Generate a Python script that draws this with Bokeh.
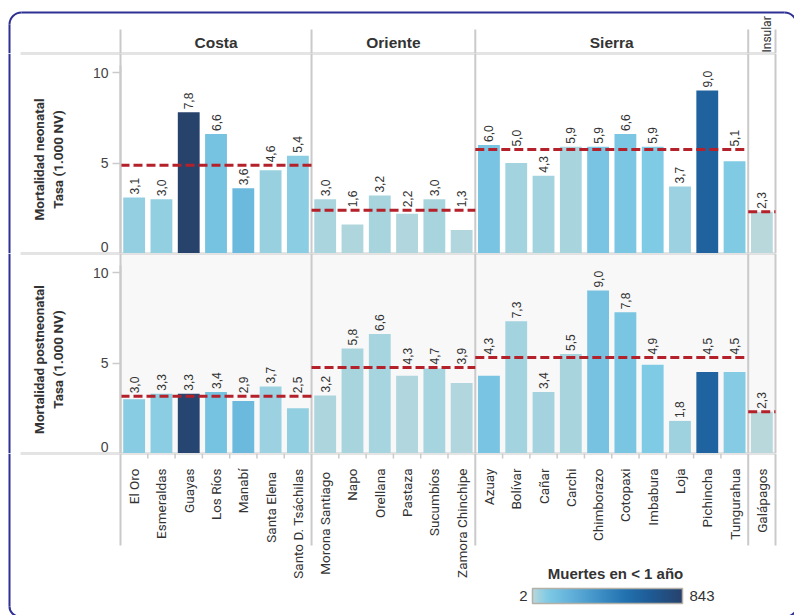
import math
import numpy as np
from bokeh.plotting import figure
from bokeh.models import Range1d, LinearAxis, FixedTicker, LinearColorMapper, ColumnDataSource
from bokeh.layouts import column
from bokeh.embed import file_html
from bokeh.resources import INLINE
from bokeh.core.properties import value

# ---------------- data ----------------
regions = ["Costa", "Oriente", "Sierra", "Insular"]
region_sizes = [7, 6, 10, 1]
provinces = ["El Oro", "Esmeraldas", "Guayas", "Los Ríos", "Manabí", "Santa  Elena",
             "Santo D. Tsáchilas",
             "Morona  Santiago", "Napo", "Orellana", "Pastaza", "Sucumbíos", "Zamora Chinchipe",
             "Azuay", "Bolívar", "Cañar", "Carchi", "Chimborazo", "Cotopaxi", "Imbabura",
             "Loja", "Pichincha", "Tungurahua",
             "Galápagos"]
neo_rate = [3.1, 3.0, 7.8, 6.6, 3.6, 4.6, 5.4,
            3.0, 1.6, 3.2, 2.2, 3.0, 1.3,
            6.0, 5.0, 4.3, 5.9, 5.9, 6.6, 5.9, 3.7, 9.0, 5.1,
            2.3]
post_rate = [3.0, 3.3, 3.3, 3.4, 2.9, 3.7, 2.5,
             3.2, 5.8, 6.6, 4.3, 4.7, 3.9,
             4.3, 7.3, 3.4, 5.5, 9.0, 7.8, 4.9, 1.8, 4.5, 4.5,
             2.3]
# deaths under one year (colour of each bar), estimated from the colour scale
neo_deaths = [55, 60, 843, 130, 170, 50, 70,
              22, 18, 28, 14, 28, 12,
              120, 35, 35, 28, 118, 105, 90, 45, 620, 85,
              2]
post_deaths = [75, 70, 820, 130, 175, 45, 60,
               20, 25, 30, 14, 30, 15,
               120, 35, 32, 28, 125, 110, 90, 40, 610, 80,
               3]
y_ticks = [0, 5, 10]
deaths_low = 2
deaths_high = 843
neo_title = "Mortalidad neonatal\nTasa (1.000 NV)"
post_title = "Mortalidad postneonatal\nTasa (1.000 NV)"
legend_title = "Muertes en < 1 año"

# ---------------- layout / style ----------------
FIG_W = 794
HEAD_H, PANEL_H, LAB_H = 53, 200, 162
PLOT_L = 120                 # x where the first bar slot starts
SLOT = 655 / 24              # px per province slot
Y_MAX = PANEL_H / 18.1

GRID = "#cacaca"
FRAME = "#2e3192"
RED = "#b5212b"
TEXT = "#333333"
SANS = "Liberation Sans"
COND = "Roboto"


def cx(px):
    return -0.5 + (px - PLOT_L) / SLOT


def hex2rgb(h):
    h = h.lstrip("#")
    return [int(h[i:i + 2], 16) for i in (0, 2, 4)]


stops = [(0.0, "#b8d8dc"), (0.10, "#7fcae4"), (0.25, "#63b1db"), (0.45, "#3e8fc6"),
         (0.62, "#2272b0"), (0.78, "#1e5c97"), (1.0, "#27426b")]
palette = []
for t in np.linspace(0, 1, 256):
    for (t0, c0), (t1, c1) in zip(stops[:-1], stops[1:]):
        if t0 <= t <= t1:
            f = (t - t0) / (t1 - t0)
            a, b = hex2rgb(c0), hex2rgb(c1)
            palette.append("#%02x%02x%02x" % tuple(int(round(a[k] + (b[k] - a[k]) * f)) for k in range(3)))
            break
mapper = LinearColorMapper(palette=palette, low=deaths_low, high=deaths_high)

sizes = np.array(region_sizes)
ends = np.cumsum(sizes) - 0.5
starts = ends - sizes
centers = (starts + ends) / 2
bounds = np.concatenate([[starts[0]], ends])
xs = np.arange(len(provinces))
gidx = np.repeat(np.arange(len(regions)), sizes)

x_range = Range1d(cx(0), cx(FIG_W))


def base_fig(h, y0, y1):
    p = figure(width=FIG_W, height=h, x_range=x_range, y_range=Range1d(y0, y1),
               output_backend="svg", toolbar_location=None, tools="",
               x_axis_location=None, y_axis_location=None,
               min_border_left=0, min_border_right=0, min_border_top=0, min_border_bottom=0)
    p.outline_line_color = None
    p.background_fill_color = "white"
    p.border_fill_color = "white"
    p.xgrid.visible = False
    p.ygrid.visible = False
    return p


# ---------------- header (y = 53 - page y) ----------------
hp = base_fig(HEAD_H, 0, HEAD_H)
hp.segment(x0=bounds, x1=bounds, y0=0, y1=24, line_color=GRID, line_width=2)
hp.segment(x0=[cx(20)], x1=[bounds[-1]], y0=[0], y1=[0], line_color=GRID, line_width=2)
wide = sizes > 1
hp.text(x=centers[wide], y=11, text=[r for r, w in zip(regions, wide) if w],
        text_align="center", text_baseline="middle", text_font=value(SANS),
        text_font_size="15.5px", text_font_style="bold", text_color=TEXT)
hp.text(x=centers[~wide], y=1, text=[r for r, w in zip(regions, wide) if not w],
        angle=math.pi / 2, text_align="left", text_baseline="middle", x_offset=5,
        text_font=value(COND), text_font_size="12px", text_color=TEXT)
# rounded frame (top)
hp.segment(x0=[cx(21)], x1=[cx(784)], y0=[41], y1=[41], line_color=FRAME, line_width=2)
hp.segment(x0=[cx(9), cx(796)], x1=[cx(9), cx(796)], y0=[29, 29], y1=[0, 0], line_color=FRAME, line_width=2)
hp.arc(x=[cx(21), cx(784)], y=[29, 29], radius=12, radius_units="screen",
       start_angle=[math.pi / 2, 0], end_angle=[math.pi, math.pi / 2], line_color=FRAME, line_width=2)


# ---------------- panels ----------------
def panel(rates, deaths, title, shaded):
    p = base_fig(PANEL_H, 0, Y_MAX)
    rates = np.array(rates, dtype=float)
    if shaded:
        p.quad(left=[bounds[0]], right=[bounds[-1]], bottom=[0], top=[Y_MAX], fill_color="#f8f8f8", line_color=None)
    p.segment(x0=bounds, x1=bounds, y0=0, y1=Y_MAX, line_color=GRID, line_width=2)
    p.segment(x0=[cx(20), cx(20)], x1=[bounds[-1], bounds[-1]], y0=[0, Y_MAX], y1=[0, Y_MAX],
              line_color=GRID, line_width=2)
    p.segment(x0=[cx(9), cx(796)], x1=[cx(9), cx(796)], y0=[0, 0], y1=[Y_MAX, Y_MAX],
              line_color=FRAME, line_width=2)

    avgs = np.array([rates[gidx == g].mean() for g in range(len(regions))])
    a = avgs[gidx]
    label_y = np.where((a >= rates) & (a - rates < 1.2), a, rates)
    src = ColumnDataSource(dict(x=xs, rate=rates, deaths=deaths, label_y=label_y,
                                label=[f"{v:.1f}".replace(".", ",") for v in rates]))
    p.vbar(x="x", top="rate", bottom=0, width=0.8, source=src,
           fill_color={"field": "deaths", "transform": mapper}, line_color=None)
    p.segment(x0=starts, x1=ends, y0=avgs, y1=avgs, line_color=RED, line_width=3, line_dash="9 4")
    p.text(x="x", y="label_y", text="label", source=src, angle=math.pi / 2,
           text_align="left", text_baseline="middle", y_offset=-3,
           text_font=value(SANS), text_font_size="12px", text_color=TEXT)

    ax = LinearAxis(ticker=FixedTicker(ticks=y_ticks[1:]), fixed_location=bounds[0], axis_label=title)
    ax.bounds = (0, 10.4)
    ax.axis_line_color = GRID
    ax.axis_line_width = 2
    ax.major_tick_line_color = GRID
    ax.major_tick_line_width = 1.5
    ax.major_tick_out = 8
    ax.major_tick_in = 0
    ax.minor_tick_line_color = None
    ax.major_label_standoff = 4
    ax.major_label_text_font = SANS
    ax.major_label_text_font_size = "14px"
    ax.major_label_text_color = "#444444"
    ax.axis_label_standoff = 24
    ax.axis_label_text_font = COND
    ax.axis_label_text_font_size = "13.5px"
    ax.axis_label_text_font_style = "bold"
    ax.axis_label_text_color = TEXT
    p.add_layout(ax, "left")
    # the lowest tick label sits just above the baseline so it stays inside the panel
    p.text(x=[bounds[0]], y=[y_ticks[0]], text=[str(y_ticks[0])], x_offset=-12, y_offset=-2,
           text_align="right", text_baseline="bottom", text_font=value(SANS),
           text_font_size="14px", text_color="#444444")
    return p


neo = panel(neo_rate, neo_deaths, neo_title, False)
post = panel(post_rate, post_deaths, post_title, True)

# ---------------- category labels + legend (y = 615 - page y) ----------------
lp = base_fig(LAB_H, 0, LAB_H)
lp.segment(x0=bounds, x1=bounds, y0=LAB_H, y1=70, line_color=GRID, line_width=2)
inner = np.array([b for b in xs[:-1] + 0.5 if b not in ends])
lp.segment(x0=inner, x1=inner, y0=LAB_H, y1=LAB_H - 5, line_color=GRID, line_width=1.5)
lp.segment(x0=[cx(20)], x1=[bounds[-1]], y0=[LAB_H], y1=[LAB_H], line_color=GRID, line_width=2)
xa = LinearAxis(ticker=FixedTicker(ticks=[int(v) for v in xs]),
                major_label_overrides={int(i): n for i, n in zip(xs, provinces)},
                fixed_location=LAB_H)
xa.axis_line_color = None
xa.major_tick_line_color = None
xa.minor_tick_line_color = None
xa.major_label_orientation = math.pi / 2
xa.major_label_standoff = 9
xa.major_label_text_font = COND
xa.major_label_text_font_size = "13.5px"
xa.major_label_text_color = TEXT
lp.add_layout(xa, "below")
# frame (bottom)
lp.segment(x0=[cx(9), cx(796)], x1=[cx(9), cx(796)], y0=[LAB_H, LAB_H], y1=[9, 9], line_color=FRAME, line_width=2)
lp.arc(x=[cx(19), cx(786)], y=[9, 9], radius=10, radius_units="screen",
       start_angle=[math.pi, 1.5 * math.pi], end_angle=[1.5 * math.pi, 2 * math.pi],
       line_color=FRAME, line_width=2)
# legend
lp.text(x=[cx(615)], y=[42], text=[legend_title], text_align="center", text_baseline="middle",
        text_font=value(SANS), text_font_size="15px", text_font_style="bold", text_color=TEXT)
grad = np.linspace(deaths_low, deaths_high, 256)[None, :]
lp.image(image=[grad], x=cx(532), y=12, dw=cx(682) - cx(532), dh=15, color_mapper=mapper)
lp.quad(left=[cx(532)], right=[cx(682)], bottom=[12], top=[27], fill_color=None,
        line_color="#b3b0a8", line_width=1.5)
lp.text(x=[cx(527)], y=[19.5], text=[str(deaths_low)], text_align="right", text_baseline="middle",
        text_font=value(SANS), text_font_size="15px", text_color=TEXT)
lp.text(x=[cx(689)], y=[19.5], text=[str(deaths_high)], text_align="left", text_baseline="middle",
        text_font=value(SANS), text_font_size="15px", text_color=TEXT)

layout = column(hp, neo, post, lp)
open("out.html", "w").write(file_html(layout, INLINE))
